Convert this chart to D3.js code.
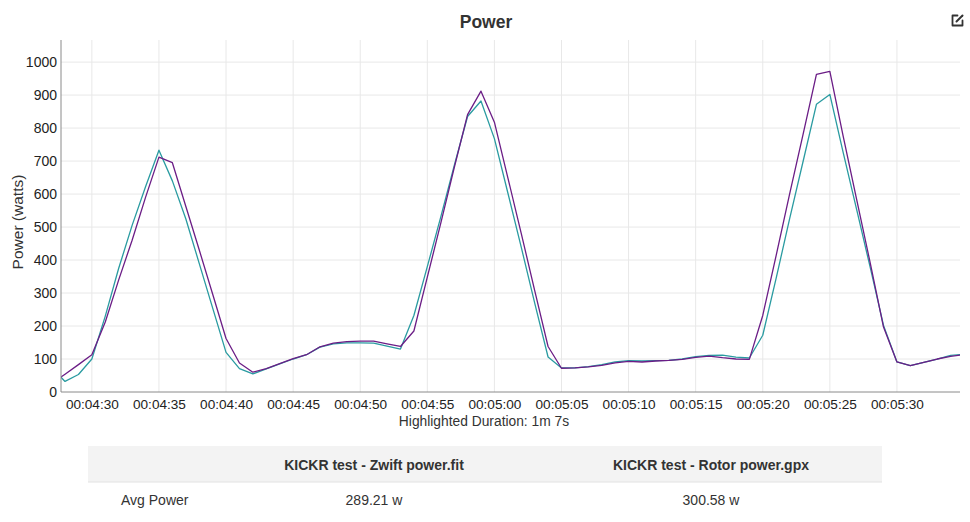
<!DOCTYPE html>
<html>
<head>
<meta charset="utf-8">
<script src="https://cdn.jsdelivr.net/npm/d3@7"></script>
<style>
  html, body { margin: 0; padding: 0; background: #fff; }
  svg { display: block; font-family: "Liberation Sans", Arial, Helvetica, sans-serif; }
</style>
</head>
<body>
<svg id="chart" width="970" height="522"></svg>
<script>
// ---------- data ----------
const times = [
  "00:04:27","00:04:28","00:04:29","00:04:30","00:04:31","00:04:32","00:04:33","00:04:34","00:04:35","00:04:36",
  "00:04:37","00:04:38","00:04:39","00:04:40","00:04:41","00:04:42","00:04:43","00:04:44","00:04:45","00:04:46",
  "00:04:47","00:04:48","00:04:49","00:04:50","00:04:51","00:04:52","00:04:53","00:04:54","00:04:55","00:04:56",
  "00:04:57","00:04:58","00:04:59","00:05:00","00:05:01","00:05:02","00:05:03","00:05:04","00:05:05","00:05:06",
  "00:05:07","00:05:08","00:05:09","00:05:10","00:05:11","00:05:12","00:05:13","00:05:14","00:05:15","00:05:16",
  "00:05:17","00:05:18","00:05:19","00:05:20","00:05:21","00:05:22","00:05:23","00:05:24","00:05:25","00:05:26",
  "00:05:27","00:05:28","00:05:29","00:05:30","00:05:31","00:05:32","00:05:33","00:05:34","00:05:35"
];
// KICKR test - Zwift power.fit (teal)
const zwiftPower = [
  75, 32, 53, 100, 230, 375, 505, 622, 733, 640,
  525, 390, 255, 120, 71, 55, 70, 85, 100, 113,
  136, 146, 149, 149, 148, 139, 130, 232, 380, 530,
  685, 835, 882, 768, 604, 439, 270, 106, 73, 73,
  77, 83, 91, 95, 94, 95, 96, 100, 107, 111,
  112, 106, 103, 172, 345, 525, 698, 872, 902, 725,
  553, 379, 202, 91, 80, 90, 100, 111, 114
];
// KICKR test - Rotor power.gpx (purple)
const rotorPower = [
  25, 54, 83, 113, 212, 340, 460, 590, 712, 695,
  563, 431, 297, 162, 88, 60, 71, 86, 101, 113,
  137, 148, 153, 154, 154, 146, 138, 185, 348, 511,
  679, 841, 912, 818, 650, 481, 308, 138, 72, 73,
  76, 81, 88, 93, 91, 94, 96, 99, 105, 109,
  104, 100, 99, 232, 414, 600, 780, 963, 972, 774,
  583, 393, 197, 91, 80, 90, 100, 108, 113
];
const xTickLabels = ["00:04:30","00:04:35","00:04:40","00:04:45","00:04:50","00:04:55","00:05:00","00:05:05","00:05:10","00:05:15","00:05:20","00:05:25","00:05:30"];
const yTickValues = [0, 100, 200, 300, 400, 500, 600, 700, 800, 900, 1000];
const seriesNames = ["KICKR test - Zwift power.fit", "KICKR test - Rotor power.gpx"];
const avgPower = ["289.21 w", "300.58 w"];

// ---------- helpers ----------
const toSec = s => { const p = s.split(":").map(Number); return p[0]*3600 + p[1]*60 + p[2]; };

const svg = d3.select("#chart");
const pL = 61, pR = 960, pT = 40, pB = 392;

const x = d3.scaleLinear().domain([267.7, 334.7]).range([pL, pR]);
const y = d3.scaleLinear().domain([0, 1067]).range([pB, pT]);

// title
svg.append("text").attr("x", 486).attr("y", 28).attr("text-anchor", "middle")
  .attr("font-size", 17.5).attr("font-weight", "bold").attr("fill", "#333").text("Power");

// edit icon
const icon = svg.append("g").attr("transform", "translate(951,14)").attr("fill", "none")
  .attr("stroke", "#333").attr("stroke-width", 1.8).attr("stroke-linecap", "round").attr("stroke-linejoin", "round");
icon.append("path").attr("d", "M6.5 1.5 H1.5 V11.5 H11.5 V6.5");
icon.append("path").attr("d", "M5.5 7.5 L11.5 1.5").attr("stroke-width", 2);

// grid
const xTicks = xTickLabels.map(toSec);
svg.append("g").selectAll("line").data(xTicks).join("line")
  .attr("x1", d => x(d)).attr("x2", d => x(d)).attr("y1", pT).attr("y2", pB)
  .attr("stroke", "#e8e8e8").attr("stroke-width", 1);
svg.append("g").selectAll("line").data(yTickValues.filter(d => d > 0)).join("line")
  .attr("x1", pL).attr("x2", pR).attr("y1", d => y(d)).attr("y2", d => y(d))
  .attr("stroke", "#e8e8e8").attr("stroke-width", 1);

// clip
svg.append("clipPath").attr("id", "plotclip").append("rect")
  .attr("x", pL).attr("y", pT - 5).attr("width", pR - pL).attr("height", pB - pT + 5);

const secs = times.map(toSec);
const line = d3.line().x(d => x(d[0])).y(d => y(d[1]));
const g = svg.append("g").attr("clip-path", "url(#plotclip)");
g.append("path").datum(secs.map((s, i) => [s, zwiftPower[i]]))
  .attr("d", line).attr("fill", "none").attr("stroke", "#2a9ba1").attr("stroke-width", 1.3)
  .attr("stroke-linejoin", "round");
g.append("path").datum(secs.map((s, i) => [s, rotorPower[i]]))
  .attr("d", line).attr("fill", "none").attr("stroke", "#6b1d86").attr("stroke-width", 1.3)
  .attr("stroke-linejoin", "round");

// axes
const yAxis = svg.append("g").attr("transform", `translate(${pL},0)`)
  .call(d3.axisLeft(y).tickValues(yTickValues).tickSize(0).tickPadding(4).tickFormat(d3.format("d")));
yAxis.select(".domain").attr("stroke", "#8a8a8a").attr("d", `M0,${pT}V${pB}`);
yAxis.selectAll("text").attr("font-size", 14).attr("fill", "#222").attr("font-family", "Liberation Sans, Arial, sans-serif");

const xAxis = svg.append("g").attr("transform", `translate(0,${pB})`)
  .call(d3.axisBottom(x).tickValues(xTicks).tickSize(0).tickPadding(7)
    .tickFormat((d, i) => xTickLabels[i]));
xAxis.select(".domain").attr("stroke", "#8a8a8a").attr("d", `M${pL},0H${pR}`);
xAxis.selectAll("text").attr("font-size", 13.6).attr("fill", "#222").attr("font-family", "Liberation Sans, Arial, sans-serif");

// axis titles
svg.append("text").attr("transform", "translate(23,222) rotate(-90)").attr("text-anchor", "middle")
  .attr("font-size", 15.5).attr("fill", "#333").text("Power (watts)");
svg.append("text").attr("x", 484).attr("y", 426).attr("text-anchor", "middle")
  .attr("font-size", 13.8).attr("fill", "#333").text("Highlighted Duration: 1m 7s");

// table
svg.append("rect").attr("x", 88).attr("y", 446).attr("width", 794).attr("height", 36).attr("fill", "#f3f3f3");
svg.append("line").attr("x1", 88).attr("x2", 882).attr("y1", 482).attr("y2", 482).attr("stroke", "#e2e2e2");
const colCenters = [374, 711];
svg.append("g").selectAll("text").data(seriesNames).join("text")
  .attr("x", (d, i) => colCenters[i]).attr("y", 470).attr("text-anchor", "middle")
  .attr("font-size", 14).attr("font-weight", "bold").attr("fill", "#333").text(d => d);
svg.append("text").attr("x", 121).attr("y", 505).attr("font-size", 14).attr("fill", "#333").text("Avg Power");
svg.append("g").selectAll("text").data(avgPower).join("text")
  .attr("x", (d, i) => colCenters[i]).attr("y", 505).attr("text-anchor", "middle")
  .attr("font-size", 14).attr("fill", "#333").text(d => d);
</script>
</body>
</html>
